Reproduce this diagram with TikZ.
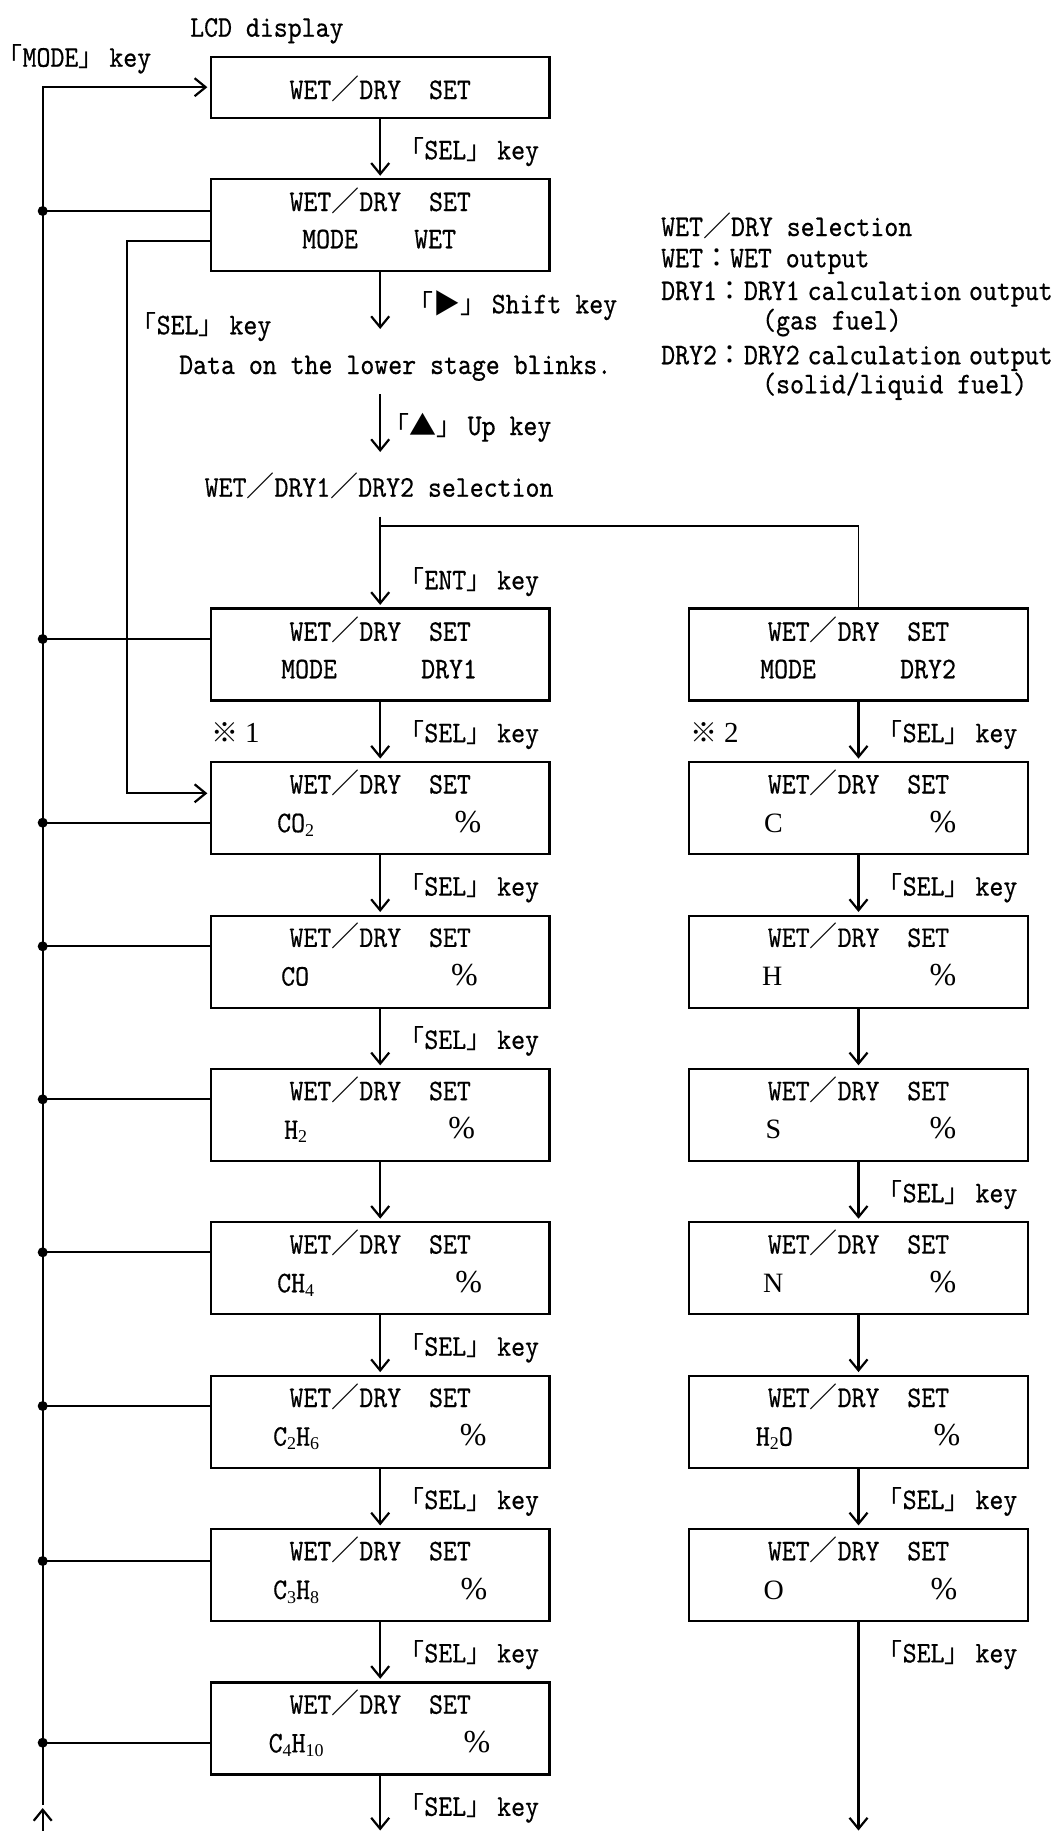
\documentclass[tikz,border=0pt]{standalone}
\usepackage{fontspec}
\usetikzlibrary{arrows.meta}
\newfontfamily\mono{lmmono10-regular.otf}[FakeStretch=0.885,FakeBold=0.5]
\newfontfamily\cjk{Noto Sans CJK JP}
\newfontfamily\ser{Liberation Serif}
\newcommand\mfont{\mono\fontsize{30}{36}\selectfont}
\newcommand\kL{{\cjk\fontsize{26}{26}\selectfont 「}}
\newcommand\kR{{\cjk\fontsize{26}{26}\selectfont 」}\hspace{5pt}}
\newcommand\fsl{{\cjk\fontsize{28}{28}\selectfont ／}}
\newcommand\fcol{{\cjk\fontsize{27}{27}\selectfont ：}}
\newcommand\sbs[1]{\raisebox{-4pt}{\ser\fontsize{18}{18}\selectfont #1}}
\newcommand\sfl[1]{{\ser\fontsize{28}{28}\selectfont #1}}
\newcommand\pct{{\ser\fontsize{32}{32}\selectfont\%}}
\newcommand\refmark[1]{{\cjk\fontsize{27}{27}\selectfont ※}\hspace{7pt}{\ser\fontsize{29}{29}\selectfont #1}}
\newcommand\symk[1]{{\cjk\fontsize{27}{27}\selectfont #1}}
\newcommand\nsp{\hspace{8pt}}
\begin{document}
\begin{tikzpicture}[x=1pt,y=-1pt,
  boxnode/.style={draw,line width=2.2pt,minimum width=338.5pt,minimum height=92pt,inner sep=0pt},
  arr/.style={line width=2.2pt,-{Straight Barb[length=11pt,width=18pt]},shorten >=2.5pt},
  conn/.style={line width=1.9pt},
  tl/.style={inner sep=0pt,anchor=base west,font=\mfont},
  tc/.style={inner sep=0pt,anchor=base,font=\mfont},
  dot/.style={circle,fill,inner sep=0pt,minimum size=10pt}]
\fill[white] (0,0) rectangle (1060,1831);
\useasboundingbox (0,0) rectangle (1060,1831);

% ---------- boxes ----------
\node[boxnode,minimum height=61pt] (b1) at (380.2,87.2) {};
\node[boxnode,minimum height=91.7pt] (b2) at (380.2,225.2) {};
\node[boxnode] (d1) at (380.2,654.5) {};
\node[boxnode] (d2) at (858.5,654.5) {};
\node[boxnode] (l1) at (380.2,808.2) {};
\node[boxnode] (l2) at (380.2,961.6) {};
\node[boxnode] (l3) at (380.2,1114.9) {};
\node[boxnode] (l4) at (380.2,1268.3) {};
\node[boxnode] (l5) at (380.2,1421.7) {};
\node[boxnode] (l6) at (380.2,1575.0) {};
\node[boxnode] (l7) at (380.2,1728.4) {};
\node[boxnode] (r1) at (858.5,808.2) {};
\node[boxnode] (r2) at (858.5,961.6) {};
\node[boxnode] (r3) at (858.5,1114.9) {};
\node[boxnode] (r4) at (858.5,1268.3) {};
\node[boxnode] (r5) at (858.5,1421.7) {};
\node[boxnode] (r6) at (858.5,1575.0) {};

% ---------- box texts ----------
\node[tc] (b1a) at (380.2,99) {WET\fsl DRY\ \ SET};
\node[tc] (b2a) at (380.2,211) {WET\fsl DRY\ \ SET};
\node[tl] (b2b) at (302,248.3) {MODE};
\node[tl] (b2c) at (414,248.3) {WET};
\node[tc] (d1a) at (380.2,640.8) {WET\fsl DRY\ \ SET};
\node[tl] (d1b) at (281,678.3) {MODE};
\node[tl] (d1c) at (421,678.3) {DRY1};
\node[tc] (d2a) at (858.5,640.8) {WET\fsl DRY\ \ SET};
\node[tl] (d2b) at (760,678.3) {MODE};
\node[tl] (d2c) at (900,678.3) {DRY2};

\node[tc] (l1a) at (380.2,793.5) {WET\fsl DRY\ \ SET};
\node[tc] (l2a) at (380.2,946.9) {WET\fsl DRY\ \ SET};
\node[tc] (l3a) at (380.2,1100.2) {WET\fsl DRY\ \ SET};
\node[tc] (l4a) at (380.2,1253.6) {WET\fsl DRY\ \ SET};
\node[tc] (l5a) at (380.2,1407.0) {WET\fsl DRY\ \ SET};
\node[tc] (l6a) at (380.2,1560.3) {WET\fsl DRY\ \ SET};
\node[tc] (l7a) at (380.2,1713.7) {WET\fsl DRY\ \ SET};
\node[tc] (r1a) at (858.5,793.5) {WET\fsl DRY\ \ SET};
\node[tc] (r2a) at (858.5,946.9) {WET\fsl DRY\ \ SET};
\node[tc] (r3a) at (858.5,1100.2) {WET\fsl DRY\ \ SET};
\node[tc] (r4a) at (858.5,1253.6) {WET\fsl DRY\ \ SET};
\node[tc] (r5a) at (858.5,1407.0) {WET\fsl DRY\ \ SET};
\node[tc] (r6a) at (858.5,1560.3) {WET\fsl DRY\ \ SET};

\node[tl] (l1b) at (277,832.2) {CO\sbs{2}};
\node[tl] (l2b) at (281,985.6) {CO};
\node[tl] (l3b) at (284,1138.9) {H\sbs{2}};
\node[tl] (l4b) at (277,1292.3) {CH\sbs{4}};
\node[tl] (l5b) at (273,1445.7) {C\sbs{2}H\sbs{6}};
\node[tl] (l6b) at (273,1599.0) {C\sbs{3}H\sbs{8}};
\node[tl] (l7b) at (268.5,1752.4) {C\sbs{4}H\sbs{10}};
\node[tc] (l1c) at (468,832.2) {\pct};
\node[tc] (l2c) at (464.5,985.6) {\pct};
\node[tc] (l3c) at (461.7,1138.9) {\pct};
\node[tc] (l4c) at (468.8,1292.3) {\pct};
\node[tc] (l5c) at (473.3,1445.7) {\pct};
\node[tc] (l6c) at (474,1599.0) {\pct};
\node[tc] (l7c) at (477,1752.4) {\pct};

\node[tl] (r1b) at (764,832.2) {\sfl{C}};
\node[tl] (r2b) at (762,985.6) {\sfl{H}};
\node[tl] (r3b) at (765.5,1138.9) {\sfl{S}};
\node[tl] (r4b) at (763,1292.3) {\sfl{N}};
\node[tl] (r5b) at (755.7,1445.7) {H\sbs{2}O};
\node[tl] (r6b) at (763.5,1599.0) {\sfl{O}};
\node[tc] (r1c) at (943,832.2) {\pct};
\node[tc] (r2c) at (943,985.6) {\pct};
\node[tc] (r3c) at (943,1138.9) {\pct};
\node[tc] (r4c) at (943,1292.3) {\pct};
\node[tc] (r5c) at (947,1445.7) {\pct};
\node[tc] (r6c) at (944,1599.0) {\pct};

% ---------- free texts ----------
\node[tl] (lcd) at (190,36.7) {LCD display};
\node[tl] (modek) at (-3.6,66.7) {\kL MODE\kR key};
\node[tl] (shiftk) at (407.5,313.3) {\kL\symk{▶}\kR Shift key};
\node[tl] (loopk) at (130.5,334.3) {\kL SEL\kR key};
\node[tl] (blink) at (179,374) {Data on the lower stage blinks.};
\node[tl] (upk) at (383.5,435) {\kL\symk{▲}\kR Up key};
\node[tl] (selt) at (204.5,496.7) {WET\fsl DRY1\fsl DRY2 selection};
\node[tl] (entk) at (398.2,589.3) {\kL ENT\kR key};
\node[tl] (mk1) at (211,742.7) {\refmark{1}};
\node[tl] (mk2) at (690,742.2) {\refmark{2}};

\node[tl] (n1) at (661,236) {WET\fsl DRY selection};
\node[tl] (n2) at (661,267.3) {WET\fcol WET output};
\node[tl] (n3) at (661,300) {DRY1\fcol DRY1\nsp calculation\nsp output};
\node[tl] (n4) at (762,329.5) {(gas fuel)};
\node[tl] (n5) at (661,364.3) {DRY2\fcol DRY2\nsp calculation\nsp output};
\node[tl] (n6) at (762,393.3) {(solid/liquid fuel)};

% SEL labels
\node[tl] (k1) at (398.2,159.3) {\kL SEL\kR key};
\node[tl] (k2) at (398.2,742.2) {\kL SEL\kR key};
\node[tl] (k3) at (398.2,895.6) {\kL SEL\kR key};
\node[tl] (k4) at (398.2,1048.9) {\kL SEL\kR key};
\node[tl] (k5) at (398.2,1355.7) {\kL SEL\kR key};
\node[tl] (k6) at (398.2,1509.0) {\kL SEL\kR key};
\node[tl] (k7) at (398.2,1662.4) {\kL SEL\kR key};
\node[tl] (k8) at (398.2,1815.8) {\kL SEL\kR key};
\node[tl] (k9) at (876.5,742.2) {\kL SEL\kR key};
\node[tl] (k10) at (876.5,895.6) {\kL SEL\kR key};
\node[tl] (k11) at (876.5,1202.3) {\kL SEL\kR key};
\node[tl] (k12) at (876.5,1509.0) {\kL SEL\kR key};
\node[tl] (k13) at (876.5,1662.4) {\kL SEL\kR key};

% ---------- coordinates ----------
\coordinate (m0) at (42.7,1805);
\coordinate (u0) at (42.7,1831);
\coordinate (u1) at (42.7,1808);
\coordinate (s1) at (380.2,329);
\coordinate (s2) at (380.2,394);
\coordinate (s3) at (380.2,452);
\coordinate (s4) at (380.2,516.7);
\coordinate (s5) at (380.2,526);
\coordinate (q1) at (127.3,241);
\coordinate (q2) at (127.3,793.3);
\coordinate (e1) at (380.2,1831);
\coordinate (e2) at (858.5,1831);

% ---------- dots on left bus ----------
\node[dot] (p1) at (42.7,211) {};
\node[dot] (p2) at (42.7,639) {};
\node[dot] (p3) at (42.7,822.7) {};
\node[dot] (p4) at (42.7,946.3) {};
\node[dot] (p5) at (42.7,1099.3) {};
\node[dot] (p6) at (42.7,1252.3) {};
\node[dot] (p7) at (42.7,1406) {};
\node[dot] (p8) at (42.7,1561) {};
\node[dot] (p9) at (42.7,1742.7) {};

% ---------- connectors ----------
\draw[arr] (m0) |- (b1.west);
\draw[arr,shorten >=0pt] (u0) -- (u1);
\draw[conn] (p1.center) -- (p1.center -| b2.west);
\draw[conn] (p2.center) -- (p2.center -| d1.west);
\draw[conn] (p3.center) -- (p3.center -| l1.west);
\draw[conn] (p4.center) -- (p4.center -| l2.west);
\draw[conn] (p5.center) -- (p5.center -| l3.west);
\draw[conn] (p6.center) -- (p6.center -| l4.west);
\draw[conn] (p7.center) -- (p7.center -| l5.west);
\draw[conn] (p8.center) -- (p8.center -| l6.west);
\draw[conn] (p9.center) -- (p9.center -| l7.west);
\draw[arr] (q1 -| b2.west) -- (q1) -- (q2) -- (q2 -| l1.west);

\draw[arr] (b1.south) -- (b2.north);
\draw[arr,shorten >=0pt] (b2.south) -- (s1);
\draw[arr,shorten >=0pt] (s2) -- (s3);
\draw[arr] (s4) -- (d1.north);
\draw[conn] (s5) -| (d2.north);

\draw[arr] (d1.south) -- (l1.north);
\draw[arr] (l1.south) -- (l2.north);
\draw[arr] (l2.south) -- (l3.north);
\draw[arr] (l3.south) -- (l4.north);
\draw[arr] (l4.south) -- (l5.north);
\draw[arr] (l5.south) -- (l6.north);
\draw[arr] (l6.south) -- (l7.north);
\draw[arr,shorten >=0.5pt] (l7.south) -- (e1);

\draw[arr] (d2.south) -- (r1.north);
\draw[arr] (r1.south) -- (r2.north);
\draw[arr] (r2.south) -- (r3.north);
\draw[arr] (r3.south) -- (r4.north);
\draw[arr] (r4.south) -- (r5.north);
\draw[arr] (r5.south) -- (r6.north);
\draw[arr,shorten >=0.5pt] (r6.south) -- (e2);
\end{tikzpicture}
\end{document}
